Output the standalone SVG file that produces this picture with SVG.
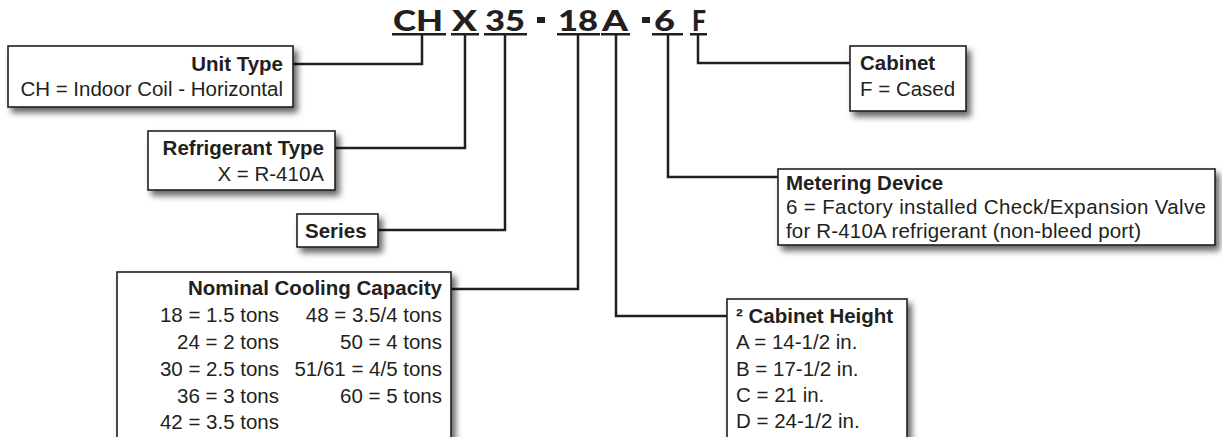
<svg xmlns="http://www.w3.org/2000/svg" width="1222" height="437" viewBox="0 0 1222 437">
<defs>
<filter id="sh" x="-10%" y="-20%" width="130%" height="160%">
<feDropShadow dx="4" dy="5" stdDeviation="3" flood-color="#000" flood-opacity="0.6"/>
</filter>
<style>
.box{fill:#fff;stroke:#231f20;stroke-width:1.6;filter:url(#sh)}
.t{font-family:"Liberation Sans",Arial,sans-serif;font-size:20.5px;fill:#231f20}
.b{font-weight:bold}
.r{text-anchor:end}
.code{font-family:"Lato","DejaVu Sans",sans-serif;font-weight:900;font-size:29px;fill:#231f20}
.ul{fill:#231f20}
.c{fill:none;stroke:#231f20;stroke-width:2.5}
</style>
</defs>
<rect width="1222" height="437" fill="#fff"/>

<g id="code">
<text class="code" x="393" y="31" textLength="50" lengthAdjust="spacingAndGlyphs">CH</text>
<text class="code" x="452" y="31" textLength="25" lengthAdjust="spacingAndGlyphs">X</text>
<text class="code" x="485" y="31" textLength="40" lengthAdjust="spacingAndGlyphs">35</text>
<rect class="ul" x="537" y="17" width="8" height="6"/>
<text class="code" x="558" y="31" textLength="40" lengthAdjust="spacingAndGlyphs">18</text>
<text class="code" x="602" y="31" textLength="26" lengthAdjust="spacingAndGlyphs">A</text>
<rect class="ul" x="642" y="17" width="8" height="6"/>
<text class="code" x="654" y="31" textLength="21" lengthAdjust="spacingAndGlyphs">6</text>
<text class="code" x="692" y="31" textLength="14" lengthAdjust="spacingAndGlyphs">F</text>
<rect class="ul" x="392" y="33" width="54" height="2.5"/>
<rect class="ul" x="451" y="33" width="28" height="2.5"/>
<rect class="ul" x="484" y="33" width="43" height="2.5"/>
<rect class="ul" x="557" y="33" width="43" height="2.5"/>
<rect class="ul" x="601" y="33" width="29" height="2.5"/>
<rect class="ul" x="652" y="33" width="31" height="2.5"/>
<rect class="ul" x="690" y="33" width="17" height="2.5"/>
</g>

<g id="connectors">
<path class="c" d="M293 64 H422 V35"/>
<path class="c" d="M335 148 H465 V35"/>
<path class="c" d="M378 230 H505 V35"/>
<path class="c" d="M451 289 H578 V35"/>
<path class="c" d="M616 35 V316 H727"/>
<path class="c" d="M668 35 V177 H778"/>
<path class="c" d="M698 35 V63 H850"/>
</g>

<g id="unit-type">
<rect class="box" x="8" y="46" width="285" height="61"/>
<text class="t b r" x="283" y="71">Unit Type</text>
<text class="t r" x="283" y="96">CH = Indoor Coil - Horizontal</text>
</g>

<g id="refrigerant-type">
<rect class="box" x="148" y="131" width="187" height="59"/>
<text class="t b r" x="324" y="155">Refrigerant Type</text>
<text class="t r" x="324" y="181">X = R-410A</text>
</g>

<g id="series">
<rect class="box" x="297" y="214" width="81" height="33"/>
<text class="t b" x="305" y="238">Series</text>
</g>

<g id="nominal-cooling-capacity">
<rect class="box" x="117" y="272" width="334" height="175"/>
<text class="t b r" x="442" y="295">Nominal Cooling Capacity</text>
<text class="t r" x="279" y="322">18 = 1.5 tons</text>
<text class="t r" x="442" y="322">48 = 3.5/4 tons</text>
<text class="t r" x="279" y="349">24 = 2 tons</text>
<text class="t r" x="442" y="349">50 = 4 tons</text>
<text class="t r" x="279" y="376">30 = 2.5 tons</text>
<text class="t r" x="442" y="376">51/61 = 4/5 tons</text>
<text class="t r" x="279" y="403">36 = 3 tons</text>
<text class="t r" x="442" y="403">60 = 5 tons</text>
<text class="t r" x="279" y="429">42 = 3.5 tons</text>
</g>

<g id="cabinet-height">
<rect class="box" x="727" y="299" width="180" height="148"/>
<text class="t b" x="736" y="323">² Cabinet Height</text>
<text class="t" x="736" y="349">A = 14-1/2 in.</text>
<text class="t" x="736" y="376">B = 17-1/2 in.</text>
<text class="t" x="736" y="402">C = 21 in.</text>
<text class="t" x="736" y="428">D = 24-1/2 in.</text>
</g>

<g id="metering-device">
<rect class="box" x="778" y="169" width="437" height="76"/>
<text class="t b" x="786" y="190">Metering Device</text>
<text class="t" x="786" y="214" textLength="420">6 = Factory installed Check/Expansion Valve</text>
<text class="t" x="786" y="238" textLength="355">for R-410A refrigerant (non-bleed port)</text>
</g>

<g id="cabinet">
<rect class="box" x="850" y="46" width="116" height="65"/>
<text class="t b" x="860" y="70">Cabinet</text>
<text class="t" x="860" y="96">F = Cased</text>
</g>
</svg>
